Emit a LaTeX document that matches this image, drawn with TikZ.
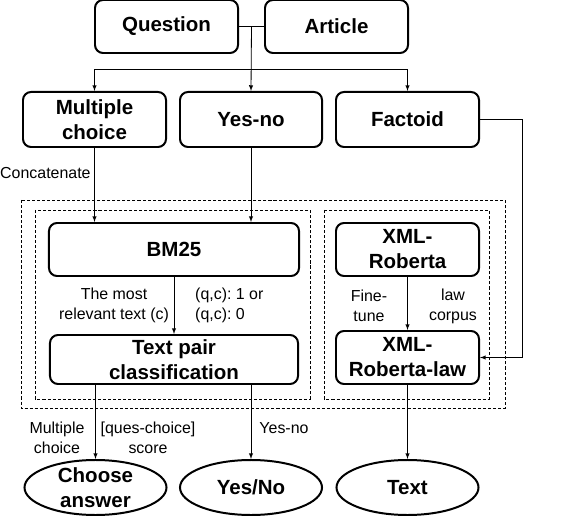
\documentclass[tikz,border=0pt]{standalone}
\usepackage{fontspec}
\setmainfont{Liberation Sans}
\usetikzlibrary{positioning, arrows, shapes, calc}

\tikzset{
	block/.style={draw, rectangle, rounded corners=0.24cm, line width=1.7pt, inner sep=2pt,
		text centered, align=center, font=\fontsize{17.5}{21.3}\selectfont\bfseries},
	outcome/.style={draw, ellipse, line width=1.7pt, minimum width=4.26cm,
		minimum height=1.65cm, inner sep=0pt},
	boldtext/.style={align=center, inner sep=0pt, font=\fontsize{17.5}{21.3}\selectfont\bfseries},
	note/.style={inner sep=0pt, font=\fontsize{13.6}{17}\selectfont\frenchspacing},
	link/.style={-latex, line width=0.7pt},
	groupbox/.style={line width=0.7pt, dash pattern=on 2.6pt off 1.7pt}
}

\begin{document}
\begin{tikzpicture}[x=0.03cm, y=-0.03cm]
		
		\useasboundingbox (0,0) rectangle (564,516);
		
		%Nodes of the inputs
		\node (question) at (166.5,26.5) [block, minimum width=4.29cm, minimum height=1.59cm]{Question};
		
		\node (article) at (336.5,26.5) [block, minimum width=4.29cm, minimum height=1.59cm]{Article};
		
		%Nodes of the question types
		\node (multiple) at (94.5,119.5) [block, minimum width=4.29cm, minimum height=1.65cm]{Multiple\\choice};
		
		\node (yesno) at (251,119.5) [block, minimum width=4.26cm, minimum height=1.65cm]{Yes-no};
		
		\node (factoid) at (407.5,119.5) [block, minimum width=4.29cm, minimum height=1.65cm]{Factoid};
		
		%Links from the inputs
		\coordinate (joint) at ($(question.east)!0.5!(article.west)$);
		\coordinate (split) at (251,69);
		
		\draw[line width=0.7pt] (question.east) -- (article.west);
		
		\draw[link] (joint) -- (yesno.north);
		
		\draw[link] (split) -| (multiple.north);
		
		\draw[link] (split) -| (factoid.north);
		
		
		%Dashed groups
		\draw[groupbox] (21,200) rectangle (505,408);
		
		\draw[groupbox] (35,210) rectangle (310,399);
		
		\draw[groupbox] (324,210) rectangle (489,399);
		
		
		%Nodes of the left group
		\node (bm) at (174,249.5) [block, minimum width=7.5cm, minimum height=1.59cm]{BM25};
		
		\node (textpair) at (174,359.5) [block, minimum width=7.44cm, minimum height=1.47cm]{Text pair\\classification};
		
		\node (relevant) at (114,305) [note, align=center]{The most\\relevant text (c)};
		
		\node (qclabel) at (195,305) [note, align=left, anchor=west]{(q,c): 1 or\\(q,c): 0};
		
		%Links among blocks
		\node (concat) at (0,173) [note, anchor=west]{Concatenate};
		
		\draw[link] (multiple.south) -- (multiple.south |- bm.north);
		
		\draw[link] (yesno.south) -- (yesno.south |- bm.north);
		
		\draw[link] (bm.south) -- (textpair.north);
		
		
		%Nodes of the right group
		\node (xmlr) at (407.5,249.5) [block, minimum width=4.29cm, minimum height=1.59cm]{XML-\\Roberta};
		
		\node (xmlrlaw) at (407.5,357.5) [block, minimum width=4.29cm, minimum height=1.59cm]{XML-\\Roberta-law};
		
		\node (finetune) at (369,306) [note, align=center]{Fine-\\tune};
		
		\node (lawcorpus) at (453,306) [note, align=center]{law\\corpus};
		
		%Links among blocks
		\coordinate (turn) at (522,357.5);
		
		\draw[link] (xmlr.south) -- (xmlrlaw.north);
		
		\draw[link] (factoid.east) -| (turn) -- (xmlrlaw.east);
		
		
		%Nodes of the outputs
		\node (choose) at (95.5,487.5) [outcome]{};
		\node (chooseText) at (choose) [boldtext]{Choose\\answer};
		
		\node (yesnoOut) at (251,487.5) [outcome]{};
		\node (yesnoText) at (yesnoOut) [boldtext]{Yes/No};
		
		\node (textOut) at (407.5,487.5) [outcome]{};
		\node (textText) at (textOut) [boldtext]{Text};
		
		\node (mcLabel) at (57,438) [note, align=center]{Multiple\\choice};
		
		\node (scoreLabel) at (148,438) [note, align=center]{[ques-choice]\\score};
		
		\node (ynLabel) at (284,428) [note]{Yes-no};
		
		%Links to the outputs
		\draw[link] (textpair.south -| choose.north) -- (choose.north);
		
		\draw[link] (textpair.south -| yesnoOut.north) -- (yesnoOut.north);
		
		\draw[link] (xmlrlaw.south) -- (textOut.north);
		
\end{tikzpicture}
\end{document}
